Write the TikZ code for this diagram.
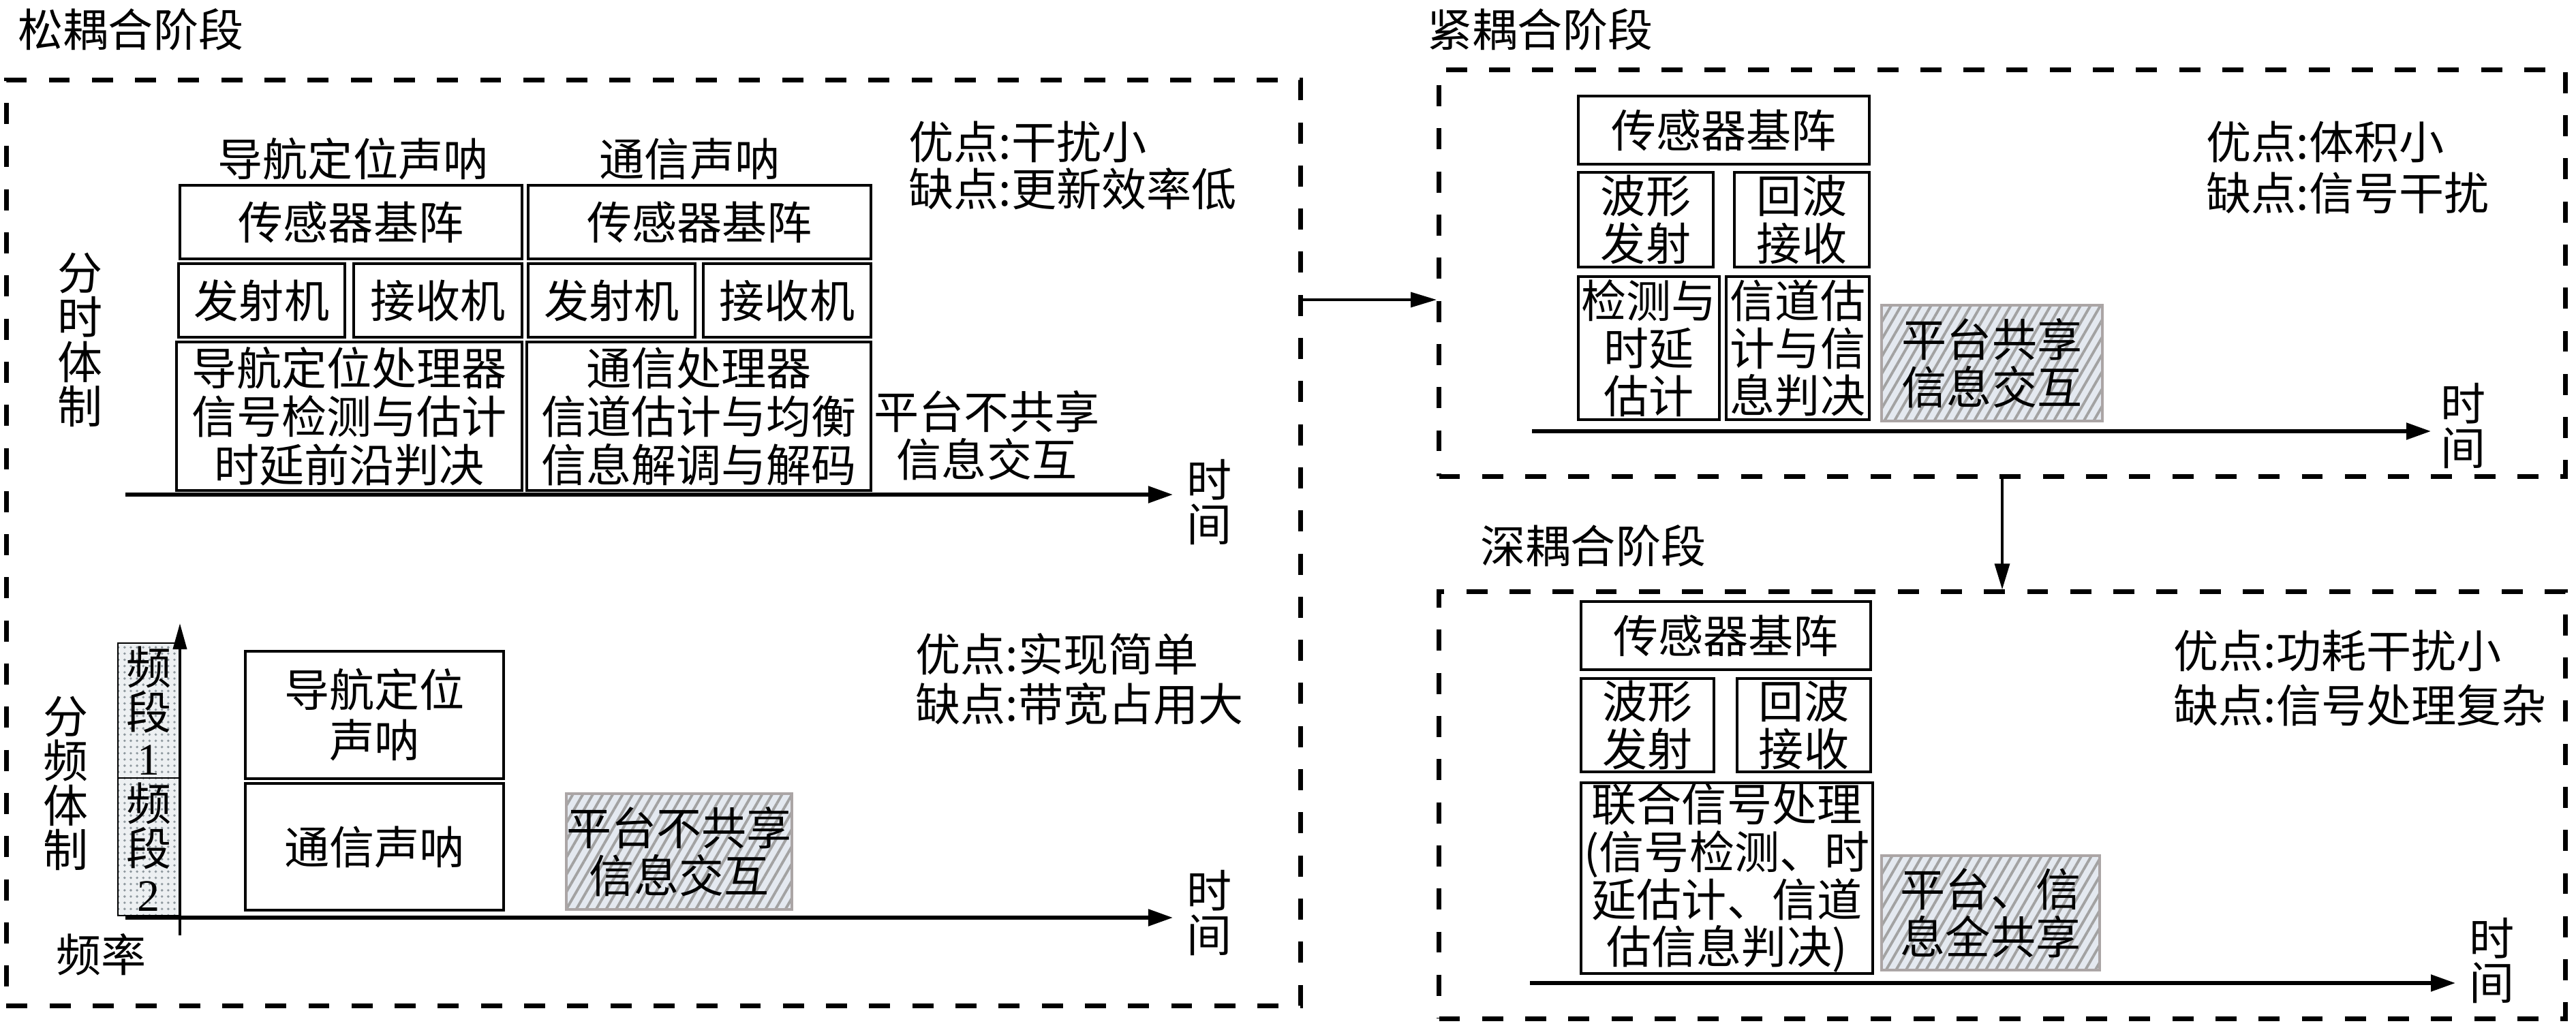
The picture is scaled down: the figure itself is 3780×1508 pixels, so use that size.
\documentclass[tikz,border=0pt]{standalone}
\usepackage{fontspec}
\setmainfont{Noto Sans CJK SC}
\newfontfamily\latfont{Liberation Serif}
\usetikzlibrary{arrows.meta,patterns.meta}
\definecolor{hatchbg}{HTML}{E4E9F0}
\definecolor{hatchline}{HTML}{A2A2A2}
\definecolor{hatchborder}{HTML}{ABA5A5}
\definecolor{dotbg}{HTML}{EDF0F2}
\definecolor{dotcol}{HTML}{8E989E}
\begin{document}
\begin{tikzpicture}[x=0.01cm,y=-0.01cm,
  font=\fontsize{18.8pt}{19.8pt}\selectfont,
  txt/.style={inner sep=0pt,align=center},
  vert/.style={inner sep=0pt,align=center,font=\fontsize{18.8pt}{18.6pt}\selectfont},
  box/.style={draw,line width=1.3pt,inner sep=0pt,align=center},
  hatch/.style={draw=hatchborder,line width=1.2pt,inner sep=0pt,align=center,
    preaction={fill=hatchbg},
    pattern={Lines[angle=60,distance=3.6pt,line width=1.1pt]},pattern color=hatchline},
  band/.style={draw,line width=0.5pt,inner sep=0pt,align=center,
    font=\fontsize{18.8pt}{19pt}\selectfont,
    preaction={fill=dotbg},
    pattern={Dots[distance=2.6pt,radius=0.55pt]},pattern color=dotcol},
  panel/.style={draw,line width=2pt,dash pattern=on 8.8pt off 9.2pt},
  axis/.style={line width=1.5pt,-{Triangle[length=0.36cm,width=0.24cm]}},
  vaxis/.style={line width=1.1pt,-{Triangle[length=0.38cm,width=0.2cm]}},
  link/.style={line width=1pt,-{Triangle[length=0.38cm,width=0.22cm]}}
]
\useasboundingbox (0,0) rectangle (3780,1508);

% panels
\node[panel,minimum width=18.98cm,minimum height=13.58cm] (L) at (959,797) {};
\node[panel,minimum width=16.52cm,minimum height=5.96cm] (T) at (2938,401) {};
\node[panel,minimum width=16.52cm,minimum height=6.26cm] (D) at (2938,1182) {};

% titles
\node[txt,anchor=west] (tL) at (26,43) {松耦合阶段};
\node[txt,anchor=west] (tT) at (2094,43) {紧耦合阶段};
\node[txt,anchor=west] (tD) at (2172,801) {深耦合阶段};

% ---- loose coupling, time division
\node[txt] (navlbl) at (518,233) {导航定位声呐};
\node[txt] (comlbl) at (1012,233) {通信声呐};
\node[box,minimum width=5.02cm,minimum height=1.08cm] (s1) at (515,326) {传感器基阵};
\node[box,minimum width=5.03cm,minimum height=1.08cm] (s2) at (1026.5,326) {传感器基阵};
\node[box,minimum width=2.44cm,minimum height=1.08cm] (tx1) at (384,441) {发射机};
\node[box,minimum width=2.47cm,minimum height=1.08cm] (rx1) at (642.5,441) {接收机};
\node[box,minimum width=2.45cm,minimum height=1.08cm] (tx2) at (897.5,441) {发射机};
\node[box,minimum width=2.46cm,minimum height=1.08cm] (rx2) at (1155,441) {接收机};
\node[box,minimum width=5.07cm,minimum height=2.18cm,font=\fontsize{18.8pt}{20.2pt}\selectfont] (p1) at (512.5,611) {导航定位处理器\\信号检测与估计\\时延前沿判决};
\node[box,minimum width=5.05cm,minimum height=2.18cm,font=\fontsize{18.8pt}{20.2pt}\selectfont] (p2) at (1025.5,611) {通信处理器\\信道估计与均衡\\信息解调与解码};
\node[vert] (ftd) at (118,499) {分\\时\\体\\制};
\node[txt] (share1) at (1448,639) {平台不共享\\信息交互};
\node[txt,anchor=west] (adv1a) at (1333,208) {优点:干扰小};
\node[txt,anchor=west] (adv1b) at (1333,277) {缺点:更新效率低};
\coordinate (a1s) at (184,726);
\coordinate (a1e) at (1721,726);
\draw[axis] (a1s) -- (a1e);
\node[vert] (time1) at (1775,737) {时\\间};

% ---- loose coupling, frequency division
\node[band,minimum width=0.91cm,minimum height=1.98cm] (b1) at (218.5,1043) {频\\段\\{\latfont 1}};
\node[band,minimum width=0.91cm,minimum height=2.02cm] (b2) at (218.5,1243) {频\\段\\{\latfont 2}};
\coordinate (fy0) at (264,1373);
\coordinate (fy1) at (264,915);
\draw[vaxis] (fy0) -- (fy1);
\coordinate (a2s) at (184,1347);
\coordinate (a2e) at (1721,1347);
\draw[axis] (a2s) -- (a2e);
\node[vert] (ffd) at (97,1150) {分\\频\\体\\制};
\node[txt] (freq) at (149,1401) {频率};
\node[box,minimum width=3.79cm,minimum height=1.87cm,font=\fontsize{18.8pt}{21pt}\selectfont] (nav) at (549.5,1049.5) {导航定位\\声呐};
\node[box,minimum width=3.79cm,minimum height=1.86cm] (com) at (549.5,1243) {通信声呐};
\node[hatch,minimum width=3.21cm,minimum height=1.70cm] (h1) at (996.5,1250) {平台不共享\\信息交互};
\node[txt,anchor=west] (adv2a) at (1343,960) {优点:实现简单};
\node[txt,anchor=west] (adv2b) at (1343,1034) {缺点:带宽占用大};
\node[vert] (time2) at (1775,1340) {时\\间};

% ---- tight coupling
\node[box,minimum width=4.27cm,minimum height=1.00cm] (ts) at (2529.5,191) {传感器基阵};
\node[box,minimum width=1.98cm,minimum height=1.39cm] (tw) at (2415,322.5) {波形\\发射};
\node[box,minimum width=1.98cm,minimum height=1.39cm] (tr) at (2644,322.5) {回波\\接收};
\node[box,minimum width=2.07cm,minimum height=2.10cm] (td) at (2419.5,511) {检测与\\时延\\估计};
\node[box,minimum width=2.10cm,minimum height=2.10cm] (tc) at (2638,511) {信道估\\计与信\\息判决};
\node[hatch,minimum width=3.24cm,minimum height=1.70cm] (th) at (2923,533) {平台共享\\信息交互};
\node[txt,anchor=west] (adv3a) at (3237,208) {优点:体积小};
\node[txt,anchor=west] (adv3b) at (3237,283) {缺点:信号干扰};
\coordinate (a3s) at (2248,633);
\coordinate (a3e) at (3567,633);
\draw[axis] (a3s) -- (a3e);
\node[vert] (time3) at (3615,625) {时\\间};

% ---- deep coupling
\node[box,minimum width=4.25cm,minimum height=1.00cm] (ds) at (2532.5,933) {传感器基阵};
\node[box,minimum width=1.95cm,minimum height=1.37cm] (dw) at (2417.5,1064.5) {波形\\发射};
\node[box,minimum width=1.96cm,minimum height=1.37cm] (dr) at (2647,1064.5) {回波\\接收};
\node[box,minimum width=4.28cm,minimum height=2.80cm] (dj) at (2534,1289) {联合信号处理\\(信号检测、时\\延估计、信道\\估信息判决)};
\node[hatch,minimum width=3.20cm,minimum height=1.68cm] (dh) at (2921,1340) {平台、信\\息全共享};
\node[txt,anchor=west] (adv4a) at (3189,955) {优点:功耗干扰小};
\node[txt,anchor=west] (adv4b) at (3189,1035) {缺点:信号处理复杂};
\coordinate (a4s) at (2245,1443);
\coordinate (a4e) at (3603,1443);
\draw[axis] (a4s) -- (a4e);
\node[vert] (time4) at (3657,1410) {时\\间};

% ---- links between stages
\coordinate (lty) at (0,440);
\draw[link] (L.east |- lty) -- (T.west |- lty);
\draw[link] (T.south) -- (D.north);
\end{tikzpicture}
\end{document}
